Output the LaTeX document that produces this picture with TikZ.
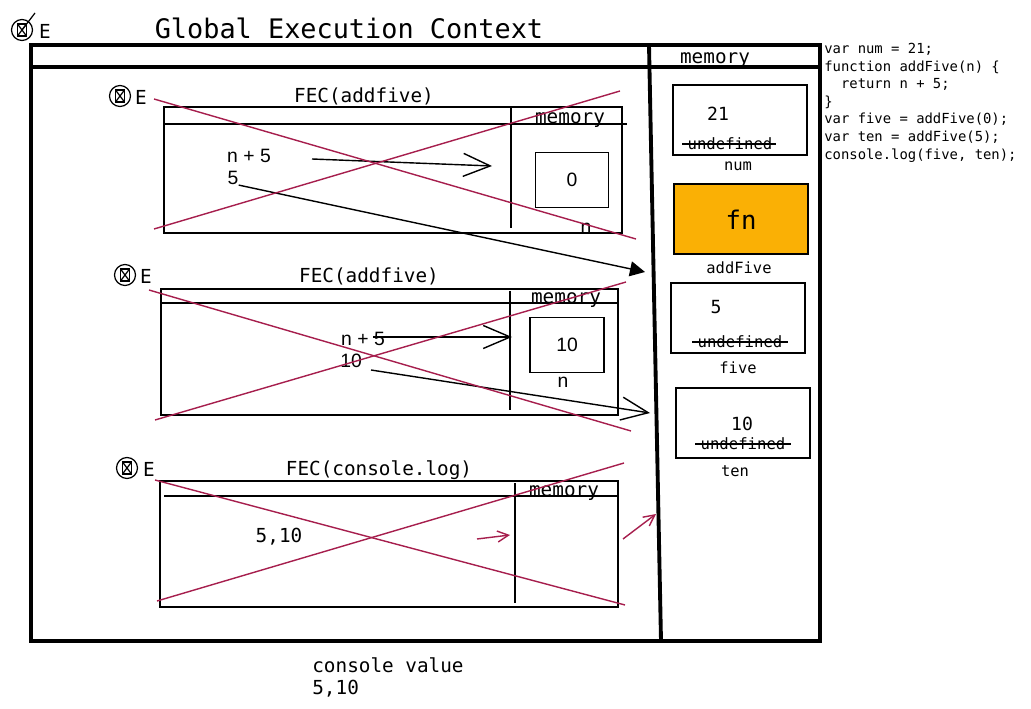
\documentclass[tikz,border=0pt]{standalone}
\usepackage{fontspec}
\setmainfont{Liberation Sans}
\setmonofont{DejaVu Sans Mono}
\usetikzlibrary{arrows.meta}
\definecolor{crossred}{HTML}{A61E4D}
\definecolor{fnfill}{HTML}{FAB005}
\tikzset{
  gec/.style={line width=2.2pt},
  fecline/.style={line width=0.8pt},
  cross/.style={crossred, line width=0.8pt},
  slot/.style={draw, line width=1.3pt, minimum width=2.68cm, minimum height=1.4cm, inner sep=0pt},
  fnslot/.style={slot, fill=fnfill},
  ttitle/.style={font=\ttfamily\fontsize{15.3}{18}\selectfont, inner sep=0pt},
  fectitle/.style={font=\ttfamily\fontsize{11}{13}\selectfont, inner sep=0pt},
  varlbl/.style={font=\ttfamily\fontsize{8.8}{10}\selectfont, inner sep=0pt},
  undef/.style={font=\ttfamily\fontsize{8.9}{10}\selectfont, inner sep=0pt},
  val/.style={font=\ttfamily\fontsize{10.3}{12}\selectfont, inner sep=0pt},
  expr/.style={font=\fontsize{11}{13}\selectfont, inner sep=0pt},
  code/.style={font=\ttfamily\fontsize{7.9}{10}\selectfont, align=left, inner sep=0pt},
  ctxsym/.style={circle, draw, line width=0.7pt, minimum size=0.42cm, inner sep=0pt,
    path picture={
      \draw ([shift={(-0.09cm,-0.12cm)}]path picture bounding box.center) rectangle ([shift={(0.09cm,0.12cm)}]path picture bounding box.center);
      \draw ([shift={(-0.09cm,-0.12cm)}]path picture bounding box.center) -- ([shift={(0.09cm,0.12cm)}]path picture bounding box.center);
      \draw ([shift={(-0.09cm,0.12cm)}]path picture bounding box.center) -- ([shift={(0.09cm,-0.12cm)}]path picture bounding box.center);
    }},
  barb/.style={-{Straight Barb[length=5.4mm,width=4.6mm]}, line width=0.8pt},
  tri/.style={-{Triangle[length=3mm,width=3mm]}, line width=0.8pt},
  redbarb/.style={crossred, -{Straight Barb[length=2.2mm,width=2.2mm]}, line width=0.8pt},
}
\begin{document}
\begin{tikzpicture}[x=0.02cm,y=-0.02cm]
  \useasboundingbox (0,0) rectangle (1031,709);
  % global execution context
  \draw[gec] (31,45) rectangle (820,641);
  \draw[gec] (31,67) -- (820,67);
  \draw[gec] (649,45) -- (661,641);
  \node[ctxsym] (gsym) at (22,30) {};
  \draw[line width=0.7pt] (gsym.center) -- (35,13);
  \node[fectitle] (gE) at (45,31) {E};
  \node[ttitle] (gtitle) at (349,28) {Global Execution Context};
  \node[fectitle] (gmem) at (715,60) {memory};
  % global memory
  \node[slot] (numbox) at (740,120) {};
  \node[val] (numval) at (718,114) {21};
  \node[undef] (numundef) at (730,144) {undefined};
  \draw[line width=0.8pt] ([xshift=-3pt]numundef.west) -- ([xshift=2pt]numundef.east);
  \node[varlbl] (numlbl) at (738,166) {num};
  \node[fnslot] (fnbox) at (741,219) {};
  \node[font=\ttfamily\fontsize{14.6}{17}\selectfont, inner sep=0pt] (fnval) at (741,220) {fn};
  \node[varlbl] (fnlbl) at (739,268) {addFive};
  \node[slot] (fivebox) at (738,318) {};
  \node[val] (fiveval) at (716,307) {5};
  \node[undef] (fiveundef) at (740,342) {undefined};
  \draw[line width=0.8pt] ([xshift=-3pt]fiveundef.west) -- ([xshift=3pt]fiveundef.east);
  \node[varlbl] (fivelbl) at (738,368) {five};
  \node[slot] (tenbox) at (743,423) {};
  \node[val] (tenval) at (742,424) {10};
  \node[undef] (tenundef) at (743,444) {undefined};
  \draw[line width=0.8pt] ([xshift=-3pt]tenundef.west) -- ([xshift=3pt]tenundef.east);
  \node[varlbl] (tenlbl) at (735,471) {ten};
  % code
  \node[code, anchor=north west] (src) at (824,43) {var num = 21;\\function addFive(n) \{\\\ \ return n + 5;\\\}\\var five = addFive(0);\\var ten = addFive(5);\\console.log(five, ten);};

  % FEC addfive(0)
  \draw[fecline] (164,107) rectangle (622,233);
  \draw[fecline] (164,124) -- (627,124);
  \draw[fecline] (511,107) -- (511,228);
  \node[ctxsym] (fasym) at (120,96) {};
  \node[fectitle] (faE) at (141,97) {E};
  \node[fectitle] (fatitle) at (364,96) {FEC(addfive)};
  \node[fectitle] (famem) at (570,120) {memory};
  \node[draw, fecline, minimum width=1.46cm, minimum height=1.1cm] (fabox) at (572,180) {};
  \node[expr] (faval) at (572,180) {0};
  \node[expr] (fan) at (586,228) {n};
  \node[expr] (faexpr) at (249,156) {n + 5};
  \node[expr] (faret) at (233,178) {5};
  \coordinate (fafrom) at (312,159);
  \coordinate (fato) at (492,166);
  \coordinate (faout) at (645,272);
  \draw[barb] (fafrom) -- (fato);
  \draw[tri] (faret.south east) -- (faout);
  \draw[cross] (154,99) -- (636,239);
  \draw[cross] (154,229) -- (620,91);

  % FEC addfive(5)
  \draw[fecline] (161,289) rectangle (618,415);
  \draw[fecline] (161,303) -- (618,303);
  \draw[fecline] (510,291) -- (510,410);
  \node[ctxsym] (fbsym) at (125,275) {};
  \node[fectitle] (fbE) at (146,276) {E};
  \node[fectitle] (fbtitle) at (369,276) {FEC(addfive)};
  \node[fectitle] (fbmem) at (566,300) {memory};
  \node[draw, fecline, minimum width=1.48cm, minimum height=1.1cm] (fbbox) at (567,345) {};
  \node[expr] (fbval) at (567,345) {10};
  \node[expr] (fbn) at (563,382) {n};
  \node[expr] (fbexpr) at (363,339) {n + 5};
  \node[expr] (fbret) at (351,361) {10};
  \coordinate (fbfrom) at (373,337);
  \coordinate (fbto) at (512,337);
  \coordinate (fbretfrom) at (371,370);
  \coordinate (fbout) at (650,413);
  \draw[barb] (fbfrom) -- (fbto);
  \draw[barb] (fbretfrom) -- (fbout);
  \draw[cross] (149,290) -- (631,431);
  \draw[cross] (155,420) -- (626,282);

  % FEC console.log
  \draw[fecline] (160,481) rectangle (618,607);
  \draw[fecline] (164,496) -- (619,496);
  \draw[fecline] (515,483) -- (515,603);
  \node[ctxsym] (fcsym) at (127,468) {};
  \node[fectitle] (fcE) at (149,469) {E};
  \node[fectitle] (fctitle) at (379,470) {FEC(console.log)};
  \node[fectitle] (fcmem) at (564,493) {memory};
  \node[fectitle] (fcval) at (279,537) {5,10};
  \coordinate (fcfrom) at (477,539);
  \coordinate (fcto) at (510,535);
  \coordinate (fcoutfrom) at (623,539);
  \coordinate (fcout) at (656,514);
  \draw[redbarb] (fcfrom) -- (fcto);
  \draw[redbarb] (fcoutfrom) -- (fcout);
  \draw[cross] (155,480) -- (625,605);
  \draw[cross] (157,601) -- (624,463);

  % console output
  \node[fectitle, anchor=west] (conlbl) at (312,665) {console value};
  \node[fectitle, anchor=west] (conval) at (312,689) {5,10};
\end{tikzpicture}
\end{document}
